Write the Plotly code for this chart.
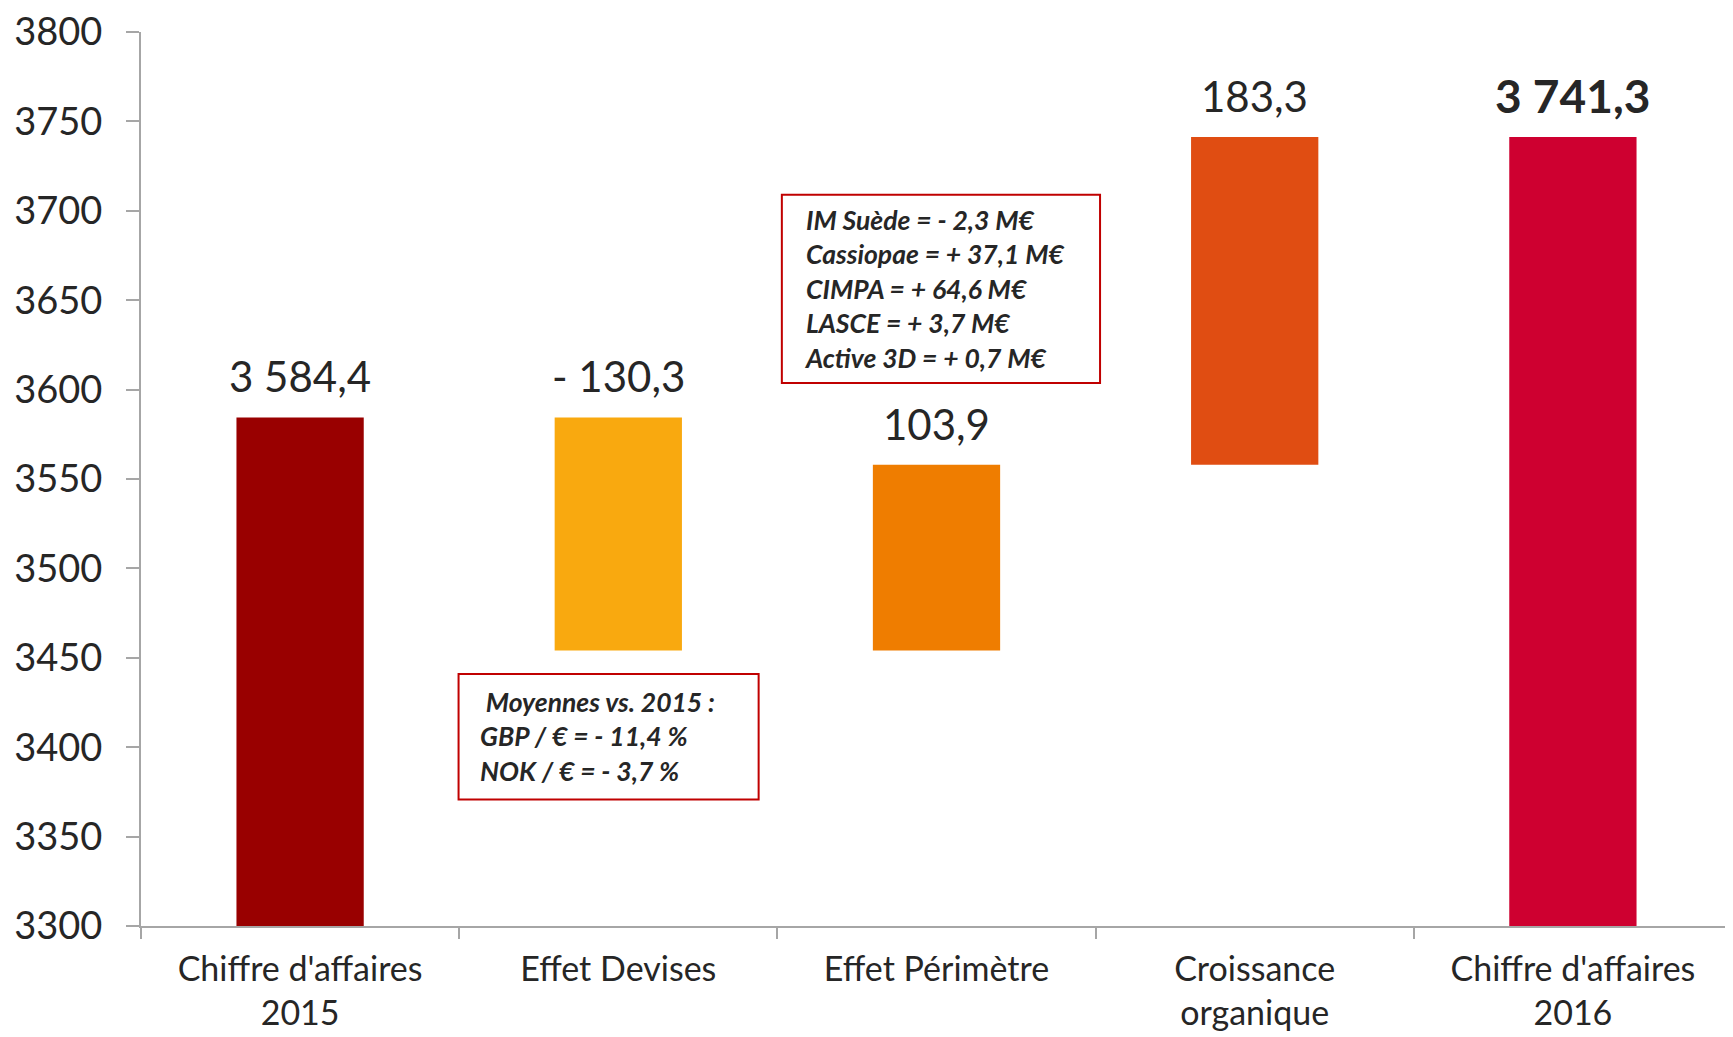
import plotly.graph_objects as go

categories = ["Chiffre d'affaires<br>2015", "Effet Devises", "Effet Périmètre",
              "Croissance<br>organique", "Chiffre d'affaires<br>2016"]
start_value = 3584.4
deltas = [-130.3, 103.9, 183.3]
end_value = 3741.3
value_labels = ["3 584,4", "- 130,3", "103,9", "183,3", "3 741,3"]
colors = ["#990000", "#F9A90F", "#EF7D00", "#E04D12", "#CE0030"]
y_ticks = [3300, 3350, 3400, 3450, 3500, 3550, 3600, 3650, 3700, 3750, 3800]

box_devises = [" Moyennes vs. 2015 :", "GBP / € = - 11,4 %", "NOK / € = - 3,7 %"]
box_perimetre = ["IM Suède = - 2,3 M€", "Cassiopae = + 37,1 M€", "CIMPA = + 64,6 M€",
                 "LASCE = + 3,7 M€", "Active 3D = + 0,7 M€"]

# waterfall bases/heights
bases = [0]
heights = [start_value]
level = start_value
for d in deltas:
    new = level + d
    bases.append(min(level, new))
    heights.append(abs(d))
    level = new
bases.append(0)
heights.append(end_value)
tops = [b + h for b, h in zip(bases, heights)]

FONT = "Lato, 'Open Sans', sans-serif"
TXT = "#262626"

fig = go.Figure()
fig.add_trace(go.Bar(x=categories, y=heights, base=bases, marker=dict(color=colors, line=dict(width=0)),
                     width=0.4, hoverinfo="skip", showlegend=False))

for i, (cat, top, lab) in enumerate(zip(categories, tops, value_labels)):
    fig.add_annotation(x=cat, y=top, text=("<b>%s</b>" % lab) if i == 4 else lab,
                       showarrow=False, yanchor="middle", yshift=41,
                       font=dict(family=FONT, size=42 if i < 4 else 46, color=TXT))

# boxes
fig.add_shape(type="rect", xref="x", yref="y", x0=0.498, x1=1.441, y0=3370.8, y1=3441,
              line=dict(color="#C00000", width=2), fillcolor="white", layer="above")
fig.add_shape(type="rect", xref="x", yref="y", x0=1.514, x1=2.514, y0=3603.7, y1=3709,
              line=dict(color="#C00000", width=2), fillcolor="white", layer="above")

fig.add_annotation(x=0.558, y=(3370.8 + 3441) / 2, xref="x", yref="y", xanchor="left", yanchor="middle",
                   align="left", showarrow=False,
                   text="<br>".join("<b><i>%s</i></b>" % t for t in box_devises),
                   font=dict(family=FONT, size=26.5, color=TXT))
fig.add_annotation(x=1.577, y=(3603.7 + 3709) / 2, xref="x", yref="y", xanchor="left", yanchor="middle",
                   align="left", showarrow=False,
                   text="<br>".join("<b><i>%s</i></b>" % t for t in box_perimetre),
                   font=dict(family=FONT, size=26.5, color=TXT))

fig.update_layout(
    template="none",
    width=1725, height=1029,
    margin=dict(l=133, r=1, t=24, b=111, autoexpand=False),
    paper_bgcolor="white", plot_bgcolor="white",
    bargap=0.6,
    font=dict(family=FONT, color=TXT),
)
fig.update_xaxes(type="category", range=[-0.5, 4.5], showline=True, linecolor="#A6A6A6", linewidth=2,
                 ticks="outside", tickson="boundaries", ticklen=11, tickcolor="#A6A6A6", tickwidth=2,
                 ticklabelstandoff=12, automargin=False, ticklabeloverflow="allow",
                 tickfont=dict(family=FONT, size=34, color=TXT), showgrid=False, zeroline=False)
fig.update_yaxes(range=[3300, 3800], tickvals=y_ticks, showline=True, linecolor="#A6A6A6", linewidth=2,
                 ticks="outside", ticklen=13, tickcolor="#A6A6A6", tickwidth=2,
                 ticklabelstandoff=16, automargin=False, ticklabeloverflow="allow",
                 tickfont=dict(family=FONT, size=38, color=TXT), showgrid=False, zeroline=False)

fig.write_html("out.html")
